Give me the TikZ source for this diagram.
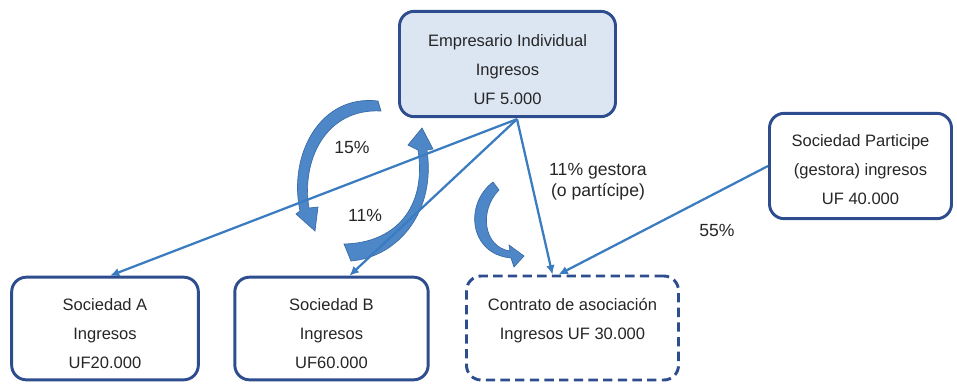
\documentclass[tikz,border=0pt]{standalone}
\usepackage{fontspec}
\setmainfont{Liberation Sans}
\usetikzlibrary{arrows.meta,calc}
\definecolor{boxline}{HTML}{2E4D8E}
\definecolor{empfill}{HTML}{DCE6F2}
\definecolor{connblue}{HTML}{3B7CC0}
\definecolor{fatfill}{HTML}{4D87C8}
\definecolor{fatline}{HTML}{3A6AA3}
\definecolor{txt}{HTML}{262626}
\begin{document}
\begin{tikzpicture}[x=0.75pt,y=-0.75pt,
  box/.style={draw=boxline, line width=2.2pt, rounded corners=11pt, fill=white, inner sep=0pt},
  boxtext/.style={align=center, text=txt, font=\fontsize{12.4}{21.75}\selectfont, inner sep=0pt},
  pct/.style={text=txt, font=\fontsize{13.2}{15.75}\selectfont, inner sep=0pt, align=center},
  connector/.style={draw=connblue, line width=1.7pt, -{Latex[length=7pt,width=6.5pt]}},
  fat/.style={fill=fatfill, draw=fatline, line width=0.5pt}]
\useasboundingbox (0,0) rectangle (957,383);

% boxes
\node[box, fill=empfill, minimum width=162pt, minimum height=79pt] (emp) at (507.5,64) {};
\node[box, minimum width=140pt, minimum height=77pt] (A) at (105,328.5) {};
\node[box, minimum width=145pt, minimum height=77pt] (B) at (331.5,328.5) {};
\node[box, dash pattern=on 7pt off 4pt, minimum width=159pt, minimum height=78pt] (con) at (572.5,328) {};
\node[box, minimum width=136.5pt, minimum height=79pt] (part) at (860.5,166) {};

% box texts
\node[boxtext] (empT) at ($(emp.center)+(0,6)$) {Empresario Individual\\Ingresos\\UF 5.000};
\node[boxtext] (AT) at ($(A.center)+(0,5.5)$) {Sociedad A\\Ingresos\\UF20.000};
\node[boxtext] (BT) at ($(B.center)+(0,5.5)$) {Sociedad B\\Ingresos\\UF60.000};
\node[boxtext] (conT) at ($(con.center)+(0,-7)$) {Contrato de asociación\\Ingresos UF 30.000};
\node[boxtext] (partT) at ($(part.center)+(0,4)$) {Sociedad Participe\\(gestora) ingresos\\UF 40.000};

% fat curved arrows
\filldraw[fat] (378,101) .. controls (320,94) and (288,155) .. (300,211) -- (296,214) -- (315,231) -- (318,207) -- (309,208) .. controls (301,160) and (326,108) .. (381,111) -- cycle;
\filldraw[fat] (344,244) .. controls (395,243) and (427,208) .. (418,150) -- (408,145) -- (422,128) -- (433,149) -- (427,150) .. controls (436,212) and (398,257) .. (351,261) -- cycle;
\filldraw[fat] (493,182) .. controls (464,204) and (469,254) .. (511,258) -- (514,267) -- (524,256) -- (509,245) -- (510,251) .. controls (483,247) and (479,210) .. (499,190) -- cycle;

% connectors
\coordinate (o) at ($(emp.south)+(9.5,1)$);
\draw[connector] (o) -- ($(A.north)+(5,0)$);
\draw[connector] (o) -- ($(B.north)+(18,0)$);
\draw[connector] (o) -- ($(con.north)+(-20,0)$);
\draw[connector] (part.west) -- ($(con.north)+(-14,0)$);

% labels
\node[pct] (p15) at (352,147) {15\%};
\node[pct] (p11) at (365,215) {11\%};
\node[pct] (pg) at (598,182) {11\% gestora\\(o partícipe)};
\node[pct] (p55) at (717,230) {55\%};
\end{tikzpicture}
\end{document}
